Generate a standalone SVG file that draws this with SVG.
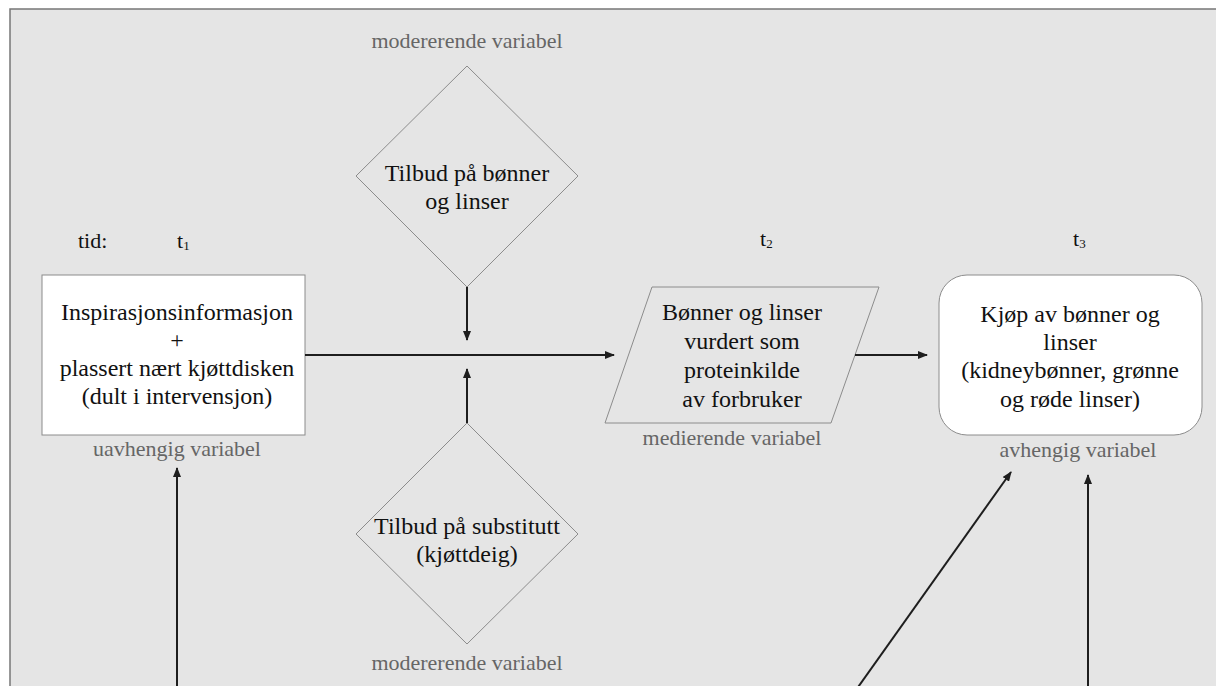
<svg xmlns="http://www.w3.org/2000/svg" width="1216" height="686" viewBox="0 0 1216 686">
<defs>
<marker id="ah" markerWidth="10" markerHeight="8" refX="9" refY="4" orient="auto" markerUnits="userSpaceOnUse">
<path d="M0,0 L10,4 L0,8 Z" fill="#1e1e1e"/>
</marker>
<style>
.t{font-family:"Liberation Serif","Times New Roman",serif;font-size:24px;fill:#111;text-anchor:middle}
.l{font-family:"Liberation Serif","Times New Roman",serif;font-size:22px;fill:#666;text-anchor:middle}
.tm{font-family:"Liberation Serif","Times New Roman",serif;font-size:22px;fill:#111}
.sub{font-size:13px}
.c{stroke:#1e1e1e;stroke-width:2;fill:none;marker-end:url(#ah)}
.shape{stroke:#8c8c8c;stroke-width:1}
</style>
</defs>
<rect x="0" y="0" width="1216" height="686" fill="#ffffff"/>
<rect x="10" y="9" width="1220" height="690" fill="#e5e5e5" stroke="#777" stroke-width="1.5"/>

<g id="time">
<text class="tm" x="78" y="248">tid:</text>
<text class="tm" x="177" y="248">t<tspan class="sub" dy="2">1</tspan></text>
<text class="tm" x="760" y="246">t<tspan class="sub" dy="2">2</tspan></text>
<text class="tm" x="1073" y="246">t<tspan class="sub" dy="2">3</tspan></text>
</g>

<g id="node-independent">
<rect class="shape" x="42" y="275" width="263" height="160" fill="#ffffff"/>
<text class="t" x="177" y="320">Inspirasjonsinformasjon</text>
<text class="t" x="177" y="348">+</text>
<text class="t" x="177" y="376">plassert nært kjøttdisken</text>
<text class="t" x="177" y="404">(dult i intervensjon)</text>
<text class="l" x="177" y="456">uavhengig variabel</text>
</g>

<g id="node-moderator-top">
<text class="l" x="467" y="48">modererende variabel</text>
<polygon class="shape" points="467,66 578,176 467,287 356,176" fill="none"/>
<text class="t" x="467" y="181">Tilbud på bønner</text>
<text class="t" x="467" y="209">og linser</text>
</g>

<g id="node-moderator-bottom">
<polygon class="shape" points="467,423 578,534 467,644 356,534" fill="none"/>
<text class="t" x="467" y="534">Tilbud på substitutt</text>
<text class="t" x="467" y="562">(kjøttdeig)</text>
<text class="l" x="467" y="670">modererende variabel</text>
</g>

<g id="node-mediator">
<polygon class="shape" points="652,287 879,287 831,423 605,423" fill="none"/>
<text class="t" x="742" y="320">Bønner og linser</text>
<text class="t" x="742" y="349">vurdert som</text>
<text class="t" x="742" y="378">proteinkilde</text>
<text class="t" x="742" y="407">av forbruker</text>
<text class="l" x="732" y="445">medierende variabel</text>
</g>

<g id="node-dependent">
<rect class="shape" x="939" y="275" width="263" height="160" rx="28" ry="28" fill="#ffffff"/>
<text class="t" x="1070" y="322">Kjøp av bønner og</text>
<text class="t" x="1070" y="350">linser</text>
<text class="t" x="1070" y="378">(kidneybønner, grønne</text>
<text class="t" x="1070" y="407">og røde linser)</text>
<text class="l" x="1078" y="457">avhengig variabel</text>
</g>

<g id="connectors">
<line class="c" x1="305" y1="355" x2="614" y2="355"/>
<line class="c" x1="855" y1="355" x2="927" y2="355"/>
<line class="c" x1="467" y1="287" x2="467" y2="340"/>
<line class="c" x1="467" y1="423" x2="467" y2="369"/>
<line class="c" x1="177" y1="690" x2="177" y2="468"/>
<line class="c" x1="856" y1="690" x2="1011" y2="472"/>
<line class="c" x1="1088" y1="690" x2="1088" y2="475"/>
</g>
</svg>
